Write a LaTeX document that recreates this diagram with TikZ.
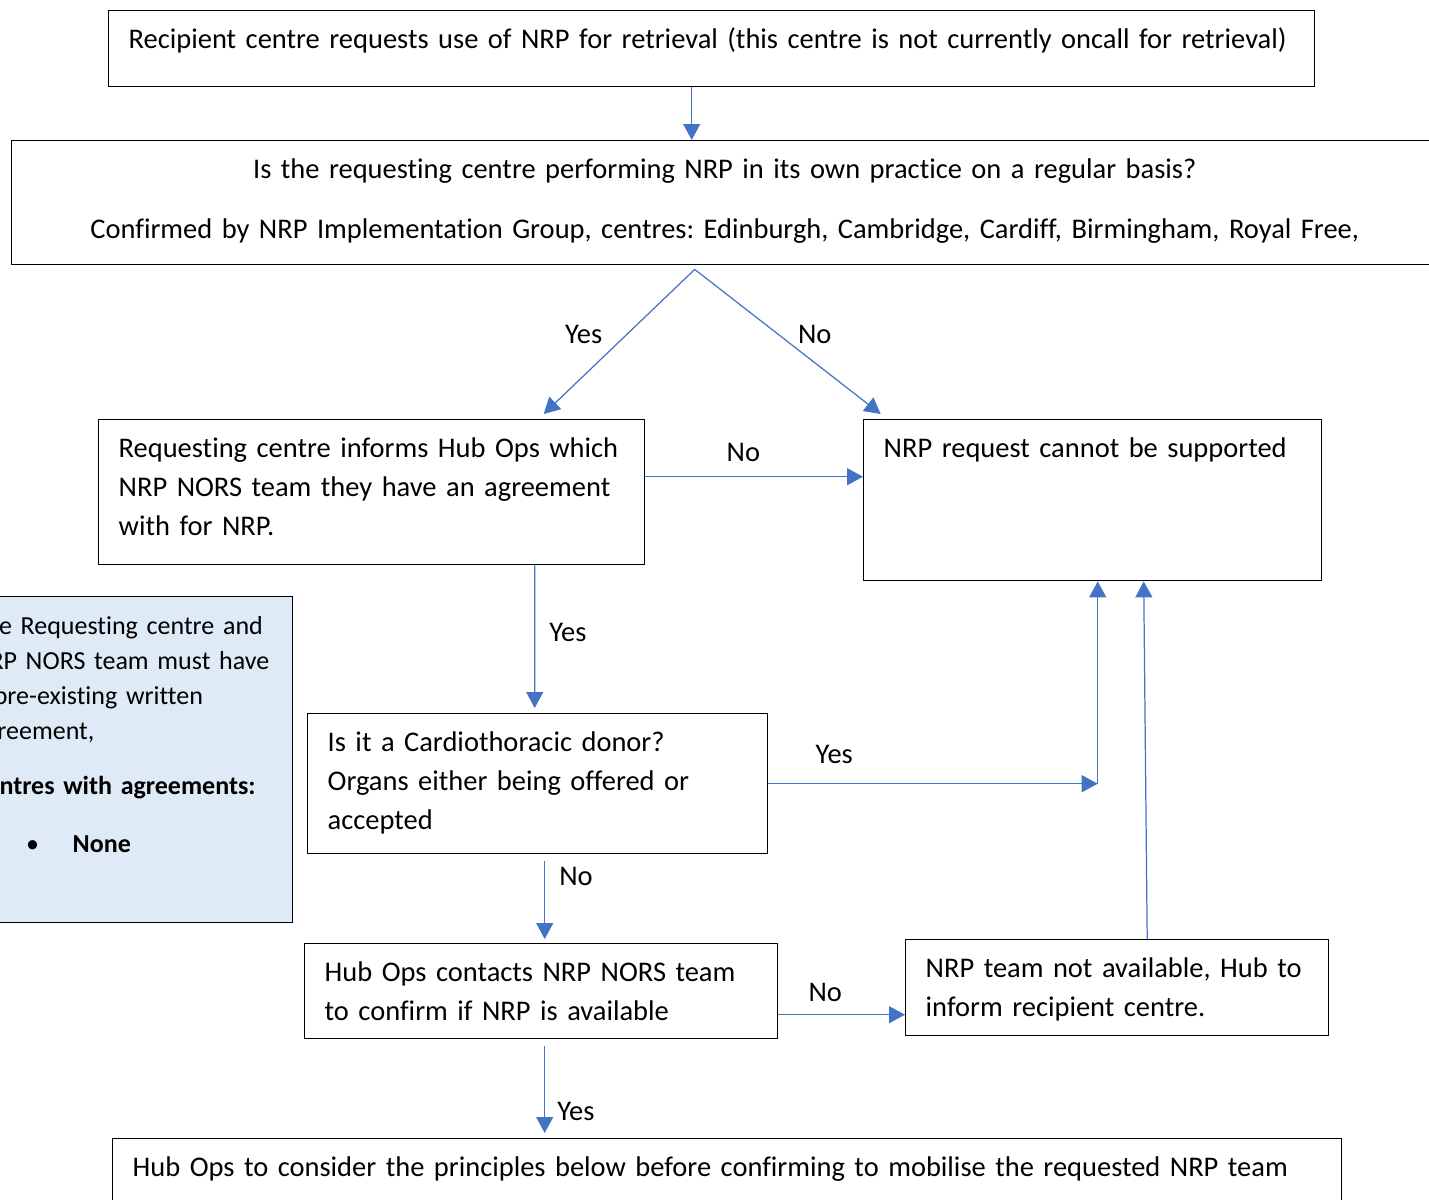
\documentclass[tikz,border=0pt]{standalone}
\usepackage{fontspec}
\setmainfont{Carlito}[Ligatures = CommonOff]
\frenchspacing
\usetikzlibrary{arrows.meta}
\definecolor{lineblue}{HTML}{4472C4}
\definecolor{noteblue}{HTML}{DEEAF6}
\tikzstyle{box} = [rectangle, draw = black, line width = 0.8pt, anchor = north west, align = left, inner xsep = 0.4cm, inner ysep = 0.2cm, text height = 0.56cm, font = \fontsize{16.2}{22.2}\selectfont]
\tikzstyle{note} = [box, fill = noteblue, inner xsep = 0.3cm, font = \fontsize{14.8}{19.8}\selectfont]
\tikzstyle{lbl} = [inner sep = 0pt, font = \fontsize{16.2}{22.2}\selectfont]
\tikzstyle{arrow} = [draw = lineblue, line width = 0.7pt, -{Triangle[length = 0.32cm, width = 0.34cm]}]

\begin{document}
\begin{tikzpicture}
    \useasboundingbox (0, 0) rectangle (28.58, -23.98);
    \node[box, text width = 23.32cm, text depth = 0.56cm] (request) at (2.16, -0.2) {Recipient centre requests use of NRP for retrieval (this centre is not currently oncall for retrieval)};
    \node[box, align = center, text width = 27.72cm, text depth = 1.52cm] (question) at (0.22, -2.8) {Is the requesting centre performing NRP in its own practice on a regular basis?\\[0.42cm] Confirmed by NRP Implementation Group, centres: Edinburgh, Cambridge, Cardiff, Birmingham, Royal Free,};
    \node[box, text width = 10.12cm, text depth = 1.94cm] (inform) at (1.96, -8.38) {Requesting centre informs Hub Ops which\\ NRP NORS team they have an agreement\\ with for NRP.};
    \node[box, text width = 8.36cm, text depth = 2.26cm] (nosupport) at (17.26, -8.38) {NRP request cannot be supported};
    \node[note, text width = 6.1cm, text depth = 5.56cm] (agreement) at (-0.86, -11.92) {The Requesting centre and\\ NRP NORS team must have\\ a pre-existing written\\ agreement,\\[0.42cm] \textbf{Centres with agreements:}\\[0.46cm] \hspace*{1.07cm}\makebox[0.93cm][l]{\textbullet}\textbf{None}};
    \node[box, text width = 8.4cm, text depth = 1.84cm] (cardio) at (6.14, -14.26) {Is it a Cardiothoracic donor?\\ Organs either being offered or\\ accepted};
    \node[box, text width = 8.66cm, text depth = 0.94cm] (contact) at (6.08, -18.86) {Hub Ops contacts NRP NORS team\\ to confirm if NRP is available};
    \node[box, text width = 7.66cm, text depth = 0.96cm] (notavail) at (18.1, -18.78) {NRP team not available, Hub to\\ inform recipient centre.};
    \node[box, text width = 23.78cm, text depth = 2.04cm] (mobilise) at (2.24, -22.76) {Hub Ops to consider the principles below before confirming to mobilise the requested NRP team};

    \coordinate (merge) at ([xshift = 0.1cm]nosupport.south |- cardio.east);

    \path[arrow] ([xshift = -0.4cm]request.south) -- ([xshift = -0.4cm]request.south |- question.north);
    \path[arrow] ([shift = {(-0.6, -0.08)}]question.south) -- node[lbl, pos = 0.45, left = 0.48cm] {Yes} ([shift = {(3.44, 0.1)}]inform.north);
    \path[arrow] ([shift = {(-0.6, -0.08)}]question.south) -- node[lbl, pos = 0.45, right = 0.38cm] {No} ([shift = {(-4.24, 0.1)}]nosupport.north);
    \path[arrow] ([yshift = 0.31cm]inform.east) -- node[lbl, pos = 0.45, above = 0.28cm] {No} ([yshift = 0.31cm]inform.east -| nosupport.west);
    \path[arrow] ([xshift = 3.26cm]inform.south) -- node[lbl, pos = 0.47, right = 0.28cm] {Yes} ([shift = {(3.26, 0.1)}]inform.south |- cardio.north);
    \path[arrow] (cardio.east) -- node[lbl, pos = 0.2, above = 0.38cm] {Yes} (merge);
    \path[arrow] (merge) -- (merge |- nosupport.south);
    \path[arrow] ([xshift = 0.6cm]notavail.north) -- ([xshift = 1.02cm]nosupport.south);
    \path[arrow] ([shift = {(0.14, -0.14)}]cardio.south) -- node[lbl, pos = 0.2, right = 0.28cm] {No} ([shift = {(0.14, 0.08)}]cardio.south |- contact.north);
    \path[arrow] ([yshift = -0.47cm]contact.east) -- node[lbl, pos = 0.37, above = 0.24cm] {No} ([yshift = -0.47cm]contact.east -| notavail.west);
    \path[arrow] ([shift = {(0.07, -0.14)}]contact.south) -- node[lbl, pos = 0.75, right = 0.24cm] {Yes} ([shift = {(0.07, 0.1)}]contact.south |- mobilise.north);
\end{tikzpicture}
\end{document}
